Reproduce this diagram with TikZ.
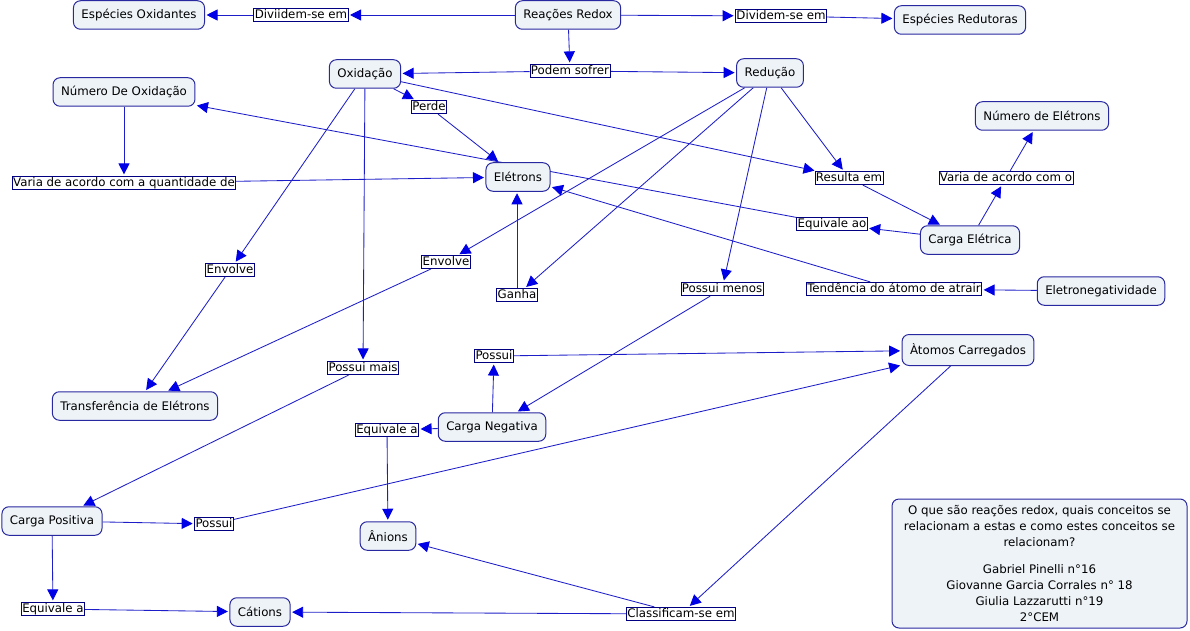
\documentclass[tikz,border=0pt]{standalone}
\usepackage{fontspec}
\setmainfont{DejaVu Sans}
\usetikzlibrary{arrows.meta}
\definecolor{cfill}{RGB}{238,243,248}
\definecolor{cborder}{RGB}{40,40,160}
\definecolor{lborder}{RGB}{0,0,128}
\definecolor{lineblue}{RGB}{30,30,200}
\definecolor{tipblue}{RGB}{0,0,230}
\newcommand{\cmapfont}{\fontsize{11.8}{16.3}\selectfont}
\pgfdeclarelayer{bg}
\pgfsetlayers{bg,main}
\begin{document}
\begin{tikzpicture}[x=1pt,y=-1pt,
  concept/.style={draw=cborder, fill=cfill, rounded corners=7pt, line width=1pt,
    minimum height=28.5pt, inner xsep=8pt, font=\cmapfont},
  linkph/.style={draw=lborder, fill=white, line width=0.7pt, inner xsep=1pt, inner ysep=1pt,
    text height=9pt, text depth=2.5pt, font=\cmapfont},
  conn/.style={draw=lineblue, line width=0.85pt,
    -{Triangle[length=11pt,width=11pt,fill=tipblue,color=tipblue]}, shorten >=1.5pt}]
\useasboundingbox (0,0) rectangle (1190,631);

% concepts
\node[concept] (redox) at (568,15) {Reações Redox};
\node[concept] (espOx) at (139,15) {Espécies Oxidantes};
\node[concept] (espRed) at (960,20) {Espécies Redutoras};
\node[concept] (oxid) at (365,74) {Oxidação};
\node[concept] (red) at (770,73) {Redução};
\node[concept] (numOx) at (124,92) {Número De Oxidação};
\node[concept] (eletr) at (518,177) {Elétrons};
\node[concept] (numEl) at (1042,116) {Número de Elétrons};
\node[concept] (carEl) at (970,240) {Carga Elétrica};
\node[concept] (eneg) at (1101,291) {Eletronegatividade};
\node[concept, minimum height=31pt] (atom) at (968,350) {Àtomos Carregados};
\node[concept] (transf) at (135,406) {Transferência de Elétrons};
\node[concept] (carNeg) at (492,427) {Carga Negativa};
\node[concept] (carPos) at (52,521) {Carga Positiva};
\node[concept] (anions) at (388,536) {Ânions};
\node[concept] (cations) at (260,612) {Cátions};

% linking phrases
\node[linkph] (divL) at (301,15) {Diviidem-se em};
\node[linkph] (divR) at (781,16) {Dividem-se em};
\node[linkph] (podem) at (570,71) {Podem sofrer};
\node[linkph] (perde) at (429,107) {Perde};
\node[linkph] (variaQ) at (124,183) {Varia de acordo com a quantidade de};
\node[linkph] (resulta) at (849,178) {Resulta em};
\node[linkph] (variaO) at (1006,178) {Varia de acordo com o};
\node[linkph] (equivAo) at (832,224) {Equivale ao};
\node[linkph] (envL) at (230,270) {Envolve};
\node[linkph] (envR) at (446,262) {Envolve};
\node[linkph] (ganha) at (517,295) {Ganha};
\node[linkph] (possMenos) at (722,289) {Possui menos};
\node[linkph] (tend) at (894,289) {Tendência do átomo de atrair\hspace{3pt}};
\node[linkph] (possU) at (494,356) {Possui};
\node[linkph] (possMais) at (363,368) {Possui mais};
\node[linkph] (equivU) at (387,430) {Equivale a};
\node[linkph] (possL) at (214,524) {Possui};
\node[linkph] (equivL) at (53,609) {Equivale a};
\node[linkph] (classif) at (681,614) {Classificam-se em};

% info box
\node[draw=cborder, fill=cfill, rounded corners=7pt, line width=1pt,
  minimum width=295pt, minimum height=129pt, align=center, font=\cmapfont] (info) at (1039.5,563.5)
  {O que são reações redox, quais conceitos se\\
   relacionam a estas e como estes conceitos se\\
   relacionam?\\[10pt]
   Gabriel Pinelli n°16\\
   Giovanne Garcia Corrales n° 18\\
   Giulia Lazzarutti n°19\\
   2°CEM};

\begin{pgfonlayer}{bg}
\draw[conn] (redox) -- (divL);
\draw[conn] (divL) -- (espOx);
\draw[conn] (redox) -- (divR);
\draw[conn] (divR) -- (espRed);
\draw[conn] (redox) -- (podem);
\draw[conn] (podem) -- (oxid);
\draw[conn] (podem) -- (red);
\draw[conn] (oxid) -- (perde);
\draw[conn] (perde) -- (eletr);
\draw[conn] (oxid) -- (resulta);
\draw[conn] (oxid) -- (envL);
\draw[conn] (oxid) -- (possMais);
\draw[conn] (red) -- (resulta);
\draw[conn] (red) -- (envR);
\draw[conn] (red) -- (ganha);
\draw[conn] (red) -- (possMenos);
\draw[conn] (ganha) -- (ganha |- eletr.south);
\draw[conn] (numOx) -- (variaQ);
\draw[conn] (variaQ) -- (eletr);
\draw[conn] (equivAo) -- (numOx);
\draw[conn] (carEl) -- (equivAo);
\draw[conn] (resulta) -- (carEl);
\draw[conn] (carEl) -- (variaO);
\draw[conn] (variaO) -- (numEl);
\draw[conn] (eneg) -- (tend);
\draw[conn] (tend) -- (eletr);
\draw[conn] (envL) -- (transf);
\draw[conn] (envR) -- (transf);
\draw[conn] (possMais) -- (carPos);
\draw[conn] (possMenos) -- (carNeg);
\draw[conn] (carNeg) -- (possU);
\draw[conn] (possU) -- (atom);
\draw[conn] (carNeg) -- (equivU);
\draw[conn] (equivU) -- (anions);
\draw[conn] (carPos) -- (possL);
\draw[conn] (possL) -- (atom);
\draw[conn] (carPos) -- (equivL);
\draw[conn] (equivL) -- (cations);
\draw[conn] (atom) -- (classif);
\draw[conn] (classif) -- (anions);
\draw[conn] (classif) -- (cations);
\end{pgfonlayer}
\end{tikzpicture}
\end{document}
